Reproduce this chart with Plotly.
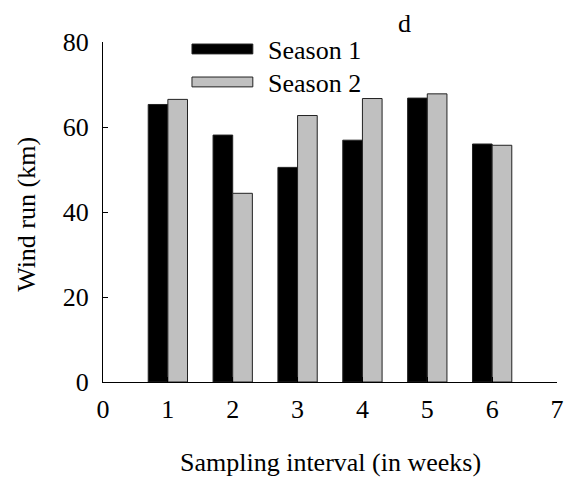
import plotly.graph_objects as go

# Weekly wind run for two seasons
weeks = [1, 2, 3, 4, 5, 6]
season1 = [65.3, 58.1, 50.5, 56.9, 66.8, 56.0]
season2 = [66.5, 44.4, 62.7, 66.7, 67.8, 55.7]
series_names = ["Season 1", "Season 2"]
series_colors = ["#000000", "#c0c0c0"]
x_ticks = [0, 1, 2, 3, 4, 5, 6, 7]
y_ticks = [0, 20, 40, 60, 80]

FONT = "Liberation Serif"
FS = 26

fig = go.Figure()
for name, vals, col in zip(series_names, [season1, season2], series_colors):
    fig.add_trace(go.Bar(
        x=weeks, y=vals, name=name,
        marker=dict(color=col, line=dict(color="#222222", width=1)),
        showlegend=False,
    ))

# Legend keys drawn as wide rectangles with labels beside them
legend_rows = [(0.994, 0.965, 0.975), (0.897, 0.868, 0.878)]
for (y1, y0, yt), name, col in zip(legend_rows, series_names, series_colors):
    fig.add_shape(type="rect", xref="paper", yref="paper",
                  x0=0.196, x1=0.330, y0=y0, y1=y1,
                  fillcolor=col, line=dict(color="#222222", width=1))
    fig.add_annotation(xref="paper", yref="paper", x=0.359, y=yt,
                       text=name, showarrow=False, xanchor="left",
                       yanchor="middle", font=dict(size=FS, color="black", family=FONT))

fig.add_annotation(xref="paper", yref="paper", x=0.665, y=1.055, text="d",
                   showarrow=False, xanchor="center", yanchor="middle",
                   font=dict(size=FS, color="black", family=FONT))
fig.add_annotation(xref="paper", yref="paper", x=0.5, y=-0.238,
                   text="Sampling interval (in weeks)", showarrow=False,
                   xanchor="center", yanchor="middle",
                   font=dict(size=FS, color="black", family=FONT))
fig.add_annotation(xref="paper", yref="paper", x=-0.170, y=0.494,
                   text="Wind run (km)", showarrow=False, textangle=-90,
                   xanchor="center", yanchor="middle",
                   font=dict(size=FS, color="black", family=FONT))

fig.update_layout(
    width=577, height=481,
    margin=dict(l=103, r=20, t=42, b=99),
    paper_bgcolor="white", plot_bgcolor="white",
    barmode="group", bargap=0.394, bargroupgap=0,
    font=dict(family=FONT, size=FS, color="black"),
    xaxis=dict(range=[0, 7], tickvals=x_ticks, ticktext=[str(t) for t in x_ticks],
               showline=True, linecolor="black", linewidth=1,
               ticks="inside", ticklen=5, tickcolor="black",
               tickfont=dict(family=FONT, size=FS, color="black"),
               showgrid=False, zeroline=False, ticklabelstandoff=4),
    yaxis=dict(range=[0, 80], tickvals=y_ticks,
               showline=True, linecolor="black", linewidth=1,
               ticks="inside", ticklen=5, tickcolor="black",
               tickfont=dict(family=FONT, size=FS, color="black"),
               showgrid=False, zeroline=False, ticklabelstandoff=8),
)

fig.write_html("out.html")
